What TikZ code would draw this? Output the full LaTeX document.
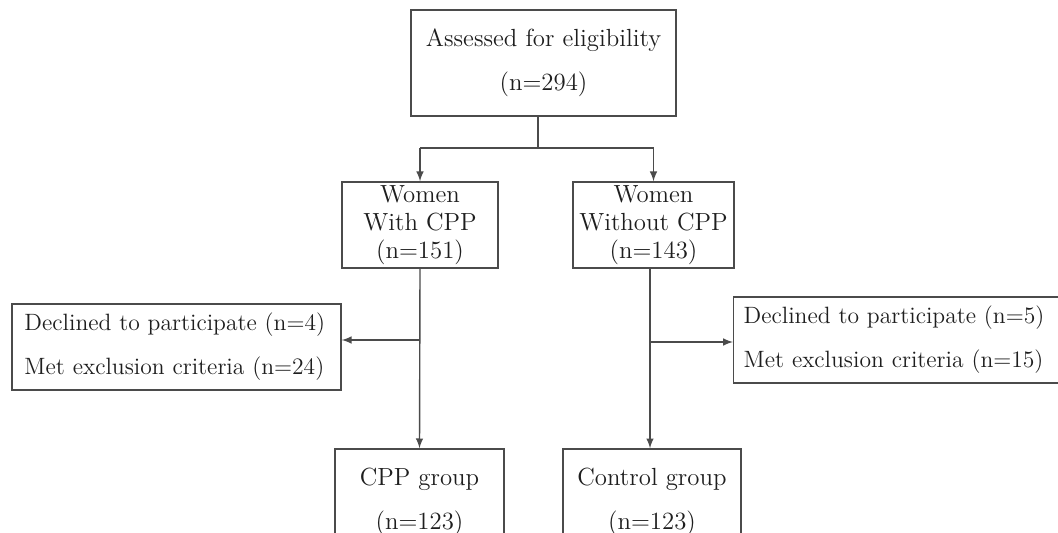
\documentclass[tikz,border=0pt]{standalone}
\usepackage{tikz}
\usetikzlibrary{shapes,arrows,positioning,calc}
\definecolor{linegray}{RGB}{75,75,75}
\definecolor{textgray}{RGB}{30,30,30}

\begin{document}
\begin{tikzpicture}[x=0.5pt,y=-0.5pt,
        every node/.style={text=textgray},
        flowbox/.style={draw=linegray, line width=0.7pt, align=center, inner sep=0pt, font=\fontsize{12.4}{22}\selectfont},
        tightbox/.style={flowbox, font=\fontsize{12.4}{14}\selectfont},
        sidebox/.style={flowbox, align=left, inner ysep=0pt, minimum height=43pt, font=\fontsize{11.8}{22}\selectfont},
        flow/.style={draw=linegray, line width=0.7pt},
        flowarrow/.style={flow, -latex}]
    \clip (0,0) rectangle (1058,533);
    \fill[white] (0,0) rectangle (1058,533);
    % top of the chart
    \node[flowbox, minimum width=132.5pt, minimum height=53pt] (assess) at (543.5,63) {Assessed for eligibility\\(n=294)};
    \node[tightbox, minimum width=78pt, minimum height=43pt] (withcpp) at (420,225) {Women\\With CPP\\(n=151)};
    \node[tightbox, minimum width=80.5pt, minimum height=43pt] (withoutcpp) at (653.5,225) {Women\\Without CPP\\(n=143)};
    % exclusions
    \node[sidebox, text width=152pt, inner xsep=6.25pt] (declL) at (176.5,347) {Declined to participate (n=4)\\Met exclusion criteria (n=24)};
    \node[sidebox, text width=160pt, inner xsep=5pt, anchor=west] (declR) at (733,340) {Declined to participate (n=5)\\Met exclusion criteria (n=15)};
    % groups
    \node[flowbox, minimum width=84.5pt, minimum height=53pt] (cppgrp) at (419.5,502) {CPP group\\(n=123)};
    \node[flowbox, minimum width=89pt, minimum height=53pt] (ctrlgrp) at (652,502) {Control group\\(n=123)};
    \coordinate (split) at (538,148);
    \coordinate (brL) at (420,340);
    \coordinate (brR) at (650,342);
    \draw[flow] (assess.south -| split) -- (split);
    \draw[flow] (split -| withcpp.north) -- (split -| withoutcpp.north);
    \draw[flowarrow] (split -| withcpp.north) -- (withcpp.north);
    \draw[flowarrow] (split -| withoutcpp.north) -- (withoutcpp.north);
    \draw[flowarrow] (withcpp.south) -- (cppgrp.north);
    \draw[flowarrow] (withoutcpp.south -| brR) -- (ctrlgrp.north -| brR);
    \draw[flowarrow] (brL) -- (brL -| declL.east);
    \draw[flowarrow] (brR) -- (brR -| declR.west);
\end{tikzpicture}
\end{document}
